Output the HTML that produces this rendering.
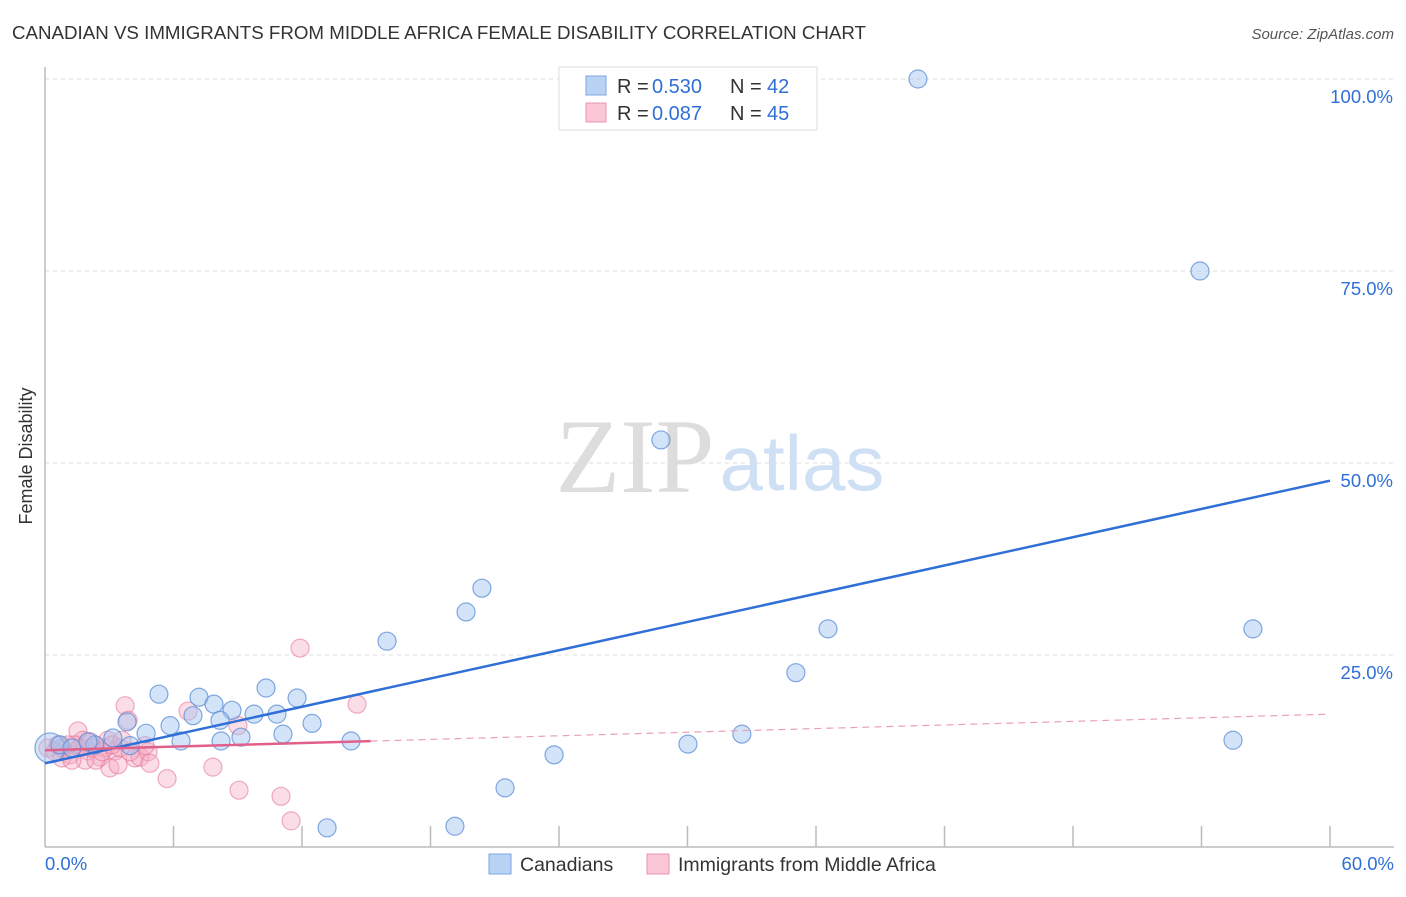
<!DOCTYPE html>
<html><head><meta charset="utf-8"><style>
body{margin:0;background:#fff;font-family:"Liberation Sans",sans-serif}
</style></head><body>
<svg id="chart" width="1406" height="892" xmlns="http://www.w3.org/2000/svg">
<text x="12" y="39" font-size="18" fill="#333" textLength="854" lengthAdjust="spacingAndGlyphs">CANADIAN VS IMMIGRANTS FROM MIDDLE AFRICA FEMALE DISABILITY CORRELATION CHART</text>
<text x="1394" y="39" font-size="15" fill="#555" font-style="italic" text-anchor="end">Source: ZipAtlas.com</text>
<text x="32" y="456" font-size="18" fill="#333" text-anchor="middle" transform="rotate(-90 32 456)">Female Disability</text>
<g><text x="635" y="492" font-size="106" fill="#ddd" font-family="Liberation Serif" text-anchor="middle">ZIP</text><text x="802" y="490" font-size="78" fill="#cfe0f5" text-anchor="middle">atlas</text></g>
<g id="grid"></g><g id="axes"></g><g id="marks"></g>
<g>
<rect x="559" y="67" width="258" height="63" fill="#fff" stroke="#ddd"/>
<rect x="586" y="76" width="20" height="19" fill="#b9d3f5" stroke="#7ea6e0"/>
<rect x="586" y="103" width="20" height="19" fill="#fbc6d6" stroke="#eb94b0"/>
<text x="617" y="93" font-size="20" fill="#333">R =</text><text x="652" y="93" font-size="20" fill="#2f6fd6">0.530</text>
<text x="730" y="93" font-size="20" fill="#333">N =</text><text x="767" y="93" font-size="20" fill="#2f6fd6">42</text>
<text x="617" y="120" font-size="20" fill="#333">R =</text><text x="652" y="120" font-size="20" fill="#2f6fd6">0.087</text>
<text x="730" y="120" font-size="20" fill="#333">N =</text><text x="767" y="120" font-size="20" fill="#2f6fd6">45</text>
</g>
<g>
<rect x="489" y="854" width="22" height="20" fill="#b9d3f5" stroke="#7ea6e0"/>
<text x="520" y="871" font-size="19.5" fill="#333">Canadians</text>
<rect x="647" y="854" width="22" height="20" fill="#fbc6d6" stroke="#eb94b0"/>
<text x="678" y="871" font-size="19.5" fill="#333">Immigrants from Middle Africa</text>
</g>
</svg>
<script>
const blueX=[0.23,0.70,1.26,2.33,3.17,3.83,4.72,5.32,5.84,6.35,6.91,7.19,7.89,8.22,8.73,9.15,9.76,10.32,10.83,11.11,11.77,12.47,13.17,14.29,15.97,19.14,19.66,20.40,21.48,23.77,28.76,30.02,32.54,35.06,36.56,40.76,53.93,55.47,56.40,2.01,3.97,8.17];
const blueY=[12.9,13.3,12.9,13.3,14.2,16.3,14.8,19.9,15.8,13.8,17.1,19.5,18.6,13.8,17.8,14.3,17.3,20.7,17.3,14.7,19.4,16.1,2.5,13.8,26.8,2.7,30.6,33.7,7.7,12.0,53.0,13.4,14.7,22.7,28.4,100,75.0,13.9,28.4,13.7,13.2,16.5];
const pinkX=[0.14,0.47,0.79,1.17,1.54,1.77,2.01,2.33,2.57,2.80,3.03,3.27,3.50,3.74,3.88,4.20,4.44,4.81,4.90,5.70,6.68,7.84,9.01,9.06,11.02,11.49,11.91,14.57,0.79,1.40,1.87,2.19,2.94,3.41,2.38,4.67,1.07,0.61,1.63,2.66,3.13,3.97,2.10,1.26,3.60];
const pinkY=[12.9,12.4,12.9,12.0,15.1,13.9,12.5,13.3,11.7,12.9,10.3,12.5,12.9,18.4,16.5,11.6,11.7,12.4,10.9,8.9,17.7,10.4,15.8,7.4,6.6,3.4,25.9,18.6,11.6,13.3,11.3,12.9,13.9,10.7,11.3,13.2,13.3,13.3,12.9,12.4,13.3,12.4,13.7,11.3,13.9];
const blueTrend=[10.9,47.7];
const pinkTrend=[12.6,17.3];
const pinkSolidEnd=15.2;
const yTicks=[25,50,75,100];
const xTickLabels=["0.0%","60.0%"];
const NS="http://www.w3.org/2000/svg";
const sx=v=>45+v/60*1285, sy=v=>847-v/100*768;
function mk(p,t,a){const e=document.createElementNS(NS,t);for(const k in a)e.setAttribute(k,a[k]);p.appendChild(e);return e;}
const grid=document.getElementById('grid'),axes=document.getElementById('axes'),marks=document.getElementById('marks');
yTicks.forEach(t=>{
 const l=mk(grid,'line',{x1:45,x2:1394,y1:sy(t),y2:sy(t),stroke:'#ddd','stroke-dasharray':'4,4'});
 
 
 const tx=mk(axes,'text',{x:1393,y:sy(t)+24,'font-size':18.5,fill:'#2f6fd6','text-anchor':'end'});
 tx.textContent=t.toFixed(1)+'%';
 
 
});
const ya=mk(axes,'line',{x1:45,x2:45,y1:67,y2:847,stroke:'#bbb','stroke-width':1.5});


const xa=mk(axes,'line',{x1:45,x2:1394,y1:847,y2:847,stroke:'#bbb','stroke-width':1.5});


for(let i=1;i<=10;i++){const l=mk(axes,'line',{x1:sx(i*6),x2:sx(i*6),y1:826,y2:847,stroke:'#bbb','stroke-width':1.5});
 
 }
const xl0=mk(axes,'text',{x:45,y:870,'font-size':18.5,fill:'#2f6fd6'});xl0.textContent=xTickLabels[0];


const xl1=mk(axes,'text',{x:1394,y:870,'font-size':18.5,fill:'#2f6fd6','text-anchor':'end'});xl1.textContent=xTickLabels[1];


pinkX.forEach((x,i)=>{const c=mk(marks,'circle',{cx:sx(x),cy:sy(pinkY[i]),r:9,fill:'rgba(245,170,195,0.4)',stroke:'rgba(230,120,155,0.6)','stroke-width':1.2});
 
 });
blueX.forEach((x,i)=>{const c=mk(marks,'circle',{cx:sx(x),cy:sy(blueY[i]),r:i===0?15:9,fill:'rgba(160,195,240,0.45)',stroke:'rgba(90,140,215,0.75)','stroke-width':1.2});
 
 });
const bl=mk(marks,'line',{x1:sx(0),y1:sy(blueTrend[0]),x2:sx(60),y2:sy(blueTrend[1]),stroke:'#2f6fd6','stroke-width':2.5});


const pAt=x=>pinkTrend[0]+(pinkTrend[1]-pinkTrend[0])*x/60;
const pl=mk(marks,'line',{x1:sx(0),y1:sy(pAt(0)),x2:sx(pinkSolidEnd),y2:sy(pAt(pinkSolidEnd)),stroke:'#e0608a','stroke-width':2.5});


const pd=mk(marks,'line',{x1:sx(pinkSolidEnd),y1:sy(pAt(pinkSolidEnd)),x2:sx(60),y2:sy(pAt(60)),stroke:'#eaa0b8','stroke-width':1.2,'stroke-dasharray':'7,5'});


</script>
</body></html>
